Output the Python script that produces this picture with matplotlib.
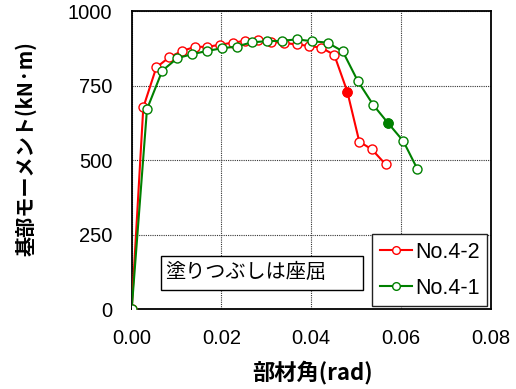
import matplotlib
matplotlib.use("Agg")
import matplotlib.pyplot as plt
from matplotlib.patches import Rectangle

jp = ['Noto Sans CJK JP', 'DejaVu Sans']
num = ['Liberation Sans', 'DejaVu Sans']

# No.4-2 (red)
r42_x = [0.0, 0.00259, 0.00549, 0.00838, 0.01122, 0.01411, 0.01686, 0.01969, 0.02252,
         0.02533, 0.02823, 0.03113, 0.03396, 0.03679, 0.03953, 0.04228, 0.04517,
         0.04807, 0.05075, 0.05351, 0.05663]
r42_y = [0, 677, 811, 845, 866, 880, 880, 887, 894, 900, 903, 897, 893, 888, 883, 877,
         853, 730, 562, 537, 486]
r42_buckle = 17

# No.4-1 (green)
r41_x = [0.0, 0.00341, 0.00682, 0.01017, 0.01338, 0.01672, 0.02007, 0.02341, 0.02676,
         0.03010, 0.03344, 0.03679, 0.04013, 0.04366, 0.04705, 0.05039, 0.05387,
         0.05708, 0.06056, 0.06368]
r41_y = [0, 671, 800, 842, 855, 866, 875, 881, 895, 899, 900, 905, 899, 894, 865, 766,
         685, 626, 564, 471]
r41_buckle = 17

xticks = [0.0, 0.02, 0.04, 0.06, 0.08]
yticks = [0, 250, 500, 750, 1000]

fig = plt.figure(figsize=(5.16, 3.89), dpi=100)
ax = fig.add_axes([0.2552, 0.2044, 0.6954, 0.7673])

ax.plot(r42_x, r42_y, color='#ff0000', lw=1.5, marker='o', ms=6.5,
        mfc='white', mec='#ff0000', mew=1.0, label='No.4-2', zorder=3)
ax.plot(r41_x, r41_y, color='#008000', lw=1.5, marker='o', ms=6.5,
        mfc='white', mec='#008000', mew=1.0, label='No.4-1', zorder=3)
ax.plot([r42_x[r42_buckle]], [r42_y[r42_buckle]], 'o', color='#ff0000', ms=6.5, zorder=4)
ax.plot([r41_x[r41_buckle]], [r41_y[r41_buckle]], 'o', color='#008000', ms=6.5, zorder=4)

ax.set_xlim(0, 0.08)
ax.set_ylim(0, 1000)
ax.set_xticks(xticks)
ax.set_yticks(yticks)
ax.set_xticklabels(['%.2f' % v for v in xticks], family=num, fontsize=14.5)
ax.set_yticklabels([str(v) for v in yticks], family=num, fontsize=14.5)
ax.tick_params(axis='x', length=0, pad=14)
ax.tick_params(axis='y', length=0, pad=14)
ax.grid(True, color='#333333', linestyle=(0, (1, 1)), lw=0.8)
for s in ax.spines.values():
    s.set_linewidth(1.3)

ax.set_xlabel('部材角(rad)', family=jp, fontsize=16, fontweight='bold')
ax.xaxis.set_label_coords(0.505, -0.17)
ax.set_ylabel('基部モーメント(kN·m)', family=jp, fontsize=14.5, fontweight='bold')
ax.yaxis.set_label_coords(-0.264, 0.54)

leg = ax.legend(loc='lower right', prop={'family': num, 'size': 15.5}, fancybox=False,
                framealpha=1, edgecolor='#222222', handlelength=1.5, handletextpad=0.15,
                borderaxespad=0.15, labelspacing=0.7, borderpad=0.35, markerscale=0.85)
leg.get_frame().set_linewidth(1.0)

# note box
ax.add_patch(Rectangle((0.0808, 0.0653), 0.5647, 0.1149, transform=ax.transAxes,
                       fc='white', ec='black', lw=1.0, zorder=5))
ax.text(0.092, 0.1225, '塗りつぶしは座屈', family=jp, fontsize=14.5, va='center', ha='left',
        transform=ax.transAxes, zorder=6)

fig.savefig('out.png', dpi=100)
